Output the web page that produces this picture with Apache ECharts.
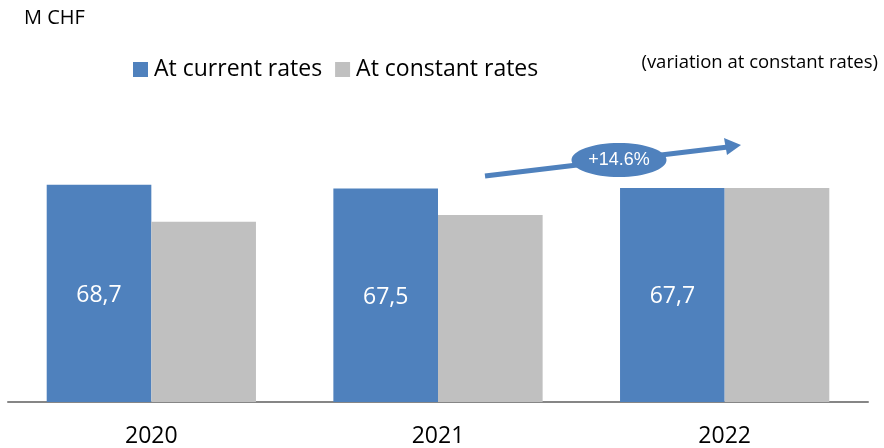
<!DOCTYPE html>
<html>
<head>
<meta charset="utf-8">
<script src="https://cdn.jsdelivr.net/npm/echarts@6/dist/echarts.min.js"></script>
<style>
  html, body { margin: 0; padding: 0; background: #fff; }
  #chart { width: 884px; height: 448px; }
</style>
</head>
<body>
<div id="chart"></div>
<script>
// data
const years = ['2020', '2021', '2022']
const currentRates = [68.7, 67.5, 67.7]
const constantRates = [57.0, 59.1, 67.7]
const variation = '+14.6%'

const chart = echarts.init(document.getElementById('chart'))
const font = '"Open Sans", "Noto Sans", sans-serif'

const option = {
  animation: false,
  textStyle: { fontFamily: font },
  grid: { left: 8, right: 16, top: 149, bottom: 45 },
  legend: {
    left: 128,
    top: 53,
    itemWidth: 15,
    itemHeight: 15,
    itemGap: 13,
    icon: 'rect',
    textStyle: { fontSize: 23, color: '#000', fontFamily: font, padding: [0, 0, 0, 1] },
    data: ['At current rates', 'At constant rates']
  },
  xAxis: {
    type: 'category',
    data: years,
    axisLine: { lineStyle: { color: '#868686', width: 2 } },
    axisTick: { show: false },
    axisLabel: { fontSize: 23, color: '#000', margin: 23, fontFamily: font }
  },
  yAxis: {
    type: 'value',
    min: 0,
    max: 80,
    show: false,
    splitLine: { show: false }
  },
  series: [
    {
      name: 'At current rates',
      type: 'bar',
      data: currentRates,
      barGap: '0%',
      barCategoryGap: '27%',
      itemStyle: { color: '#4F81BD' },
      label: {
        show: true,
        position: 'inside',
        offset: [0, 2],
        color: '#fff',
        fontSize: 23,
        fontFamily: font,
        formatter: p => String(p.value.toFixed(1)).replace('.', ',')
      }
    },
    {
      name: 'At constant rates',
      type: 'bar',
      data: constantRates,
      itemStyle: { color: '#C0C0C0' }
    }
  ],
  graphic: [
    {
      type: 'text', left: 24, top: 8,
      style: { text: 'M CHF', fontSize: 20, fill: '#000', fontFamily: font }
    },
    {
      type: 'text', right: 6, top: 53,
      style: { text: '(variation at constant rates)', fontSize: 18.5, fill: '#000', fontFamily: font }
    },
    {
      type: 'line',
      shape: { x1: 485, y1: 176, x2: 728, y2: 147 },
      style: { stroke: '#4F81BD', lineWidth: 5 }
    },
    {
      type: 'polygon',
      shape: { points: [[741, 145], [724, 138], [727, 155]] },
      style: { fill: '#4F81BD' }
    },
    {
      type: 'ellipse',
      shape: { cx: 619, cy: 160, rx: 47.5, ry: 17 },
      style: { fill: '#4F81BD' }
    },
    {
      type: 'text', x: 619, y: 160,
      style: {
        text: variation, fontSize: 18, fill: '#fff',
        fontFamily: '"Liberation Sans", Arial, sans-serif',
        align: 'center', verticalAlign: 'middle'
      }
    }
  ]
}

chart.setOption(option)
</script>
</body>
</html>
